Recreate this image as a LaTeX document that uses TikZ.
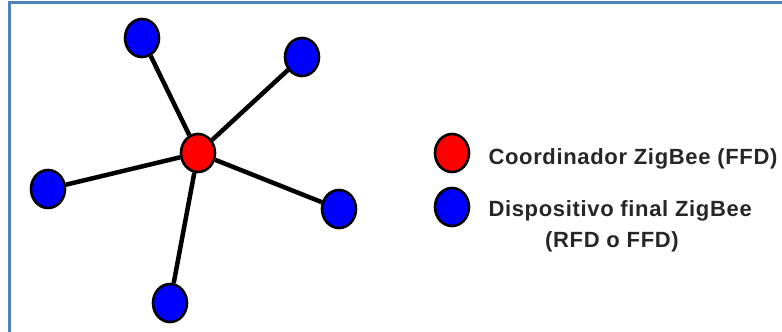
\documentclass[tikz,border=0pt]{standalone}
\usepackage{fontspec}
\setmainfont{Liberation Sans}
\newfontfamily\legfont[LetterSpace=3]{Liberation Sans}
\usetikzlibrary{shapes.geometric}
\definecolor{framebl}{RGB}{79,129,189}

\begin{document}
\begin{tikzpicture}[x=1pt, y=-1pt,
  dev/.style={ellipse, draw=black, line width=2.6pt, minimum width=34pt, minimum height=38pt, inner sep=0pt, fill=#1},
  link/.style={line width=4.5pt, black},
  legtxt/.style={font=\legfont\fontsize{22}{25}\selectfont\bfseries, text=black!85}
]
\useasboundingbox (0,0) rectangle (782,332);

% Frame (top and left edges only)
\draw[line width=3pt, framebl] (9,332) -- (9,2.5) -- (782,2.5);

% Coordinator and end devices
\node[dev=red] (coord) at (198,153) {};
\node[dev=blue] (ed1) at (142,38) {};
\node[dev=blue] (ed2) at (302,57) {};
\node[dev=blue] (ed3) at (48,189) {};
\node[dev=blue] (ed4) at (339,209) {};
\node[dev=blue] (ed5) at (170,303) {};

% Star links
\foreach \n in {ed1,ed2,ed3,ed4,ed5}
  \draw[link] (coord) -- (\n);

% Legend
\node[dev=red] (legred) at (452,153) {};
\node[dev=blue] (legblue) at (452,207) {};
\node[legtxt, anchor=west] (txtcoord) at (485,159) {Coordinador ZigBee (FFD)};
\node[legtxt, anchor=west] (txtdev) at (485,211) {Dispositivo final ZigBee};
\node[legtxt] (txtrfd) at (612,242) {(RFD o FFD)};
\end{tikzpicture}
\end{document}
